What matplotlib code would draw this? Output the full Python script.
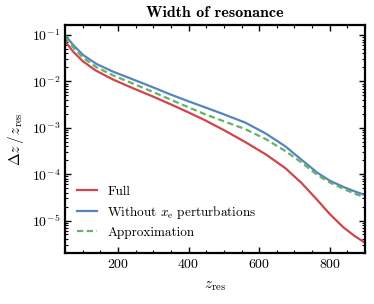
import matplotlib
matplotlib.use("Agg")
import matplotlib.pyplot as plt
import numpy as np

plt.rcParams["font.family"] = ["cmr10", "DejaVu Serif"]
plt.rcParams["mathtext.fontset"] = "cm"
plt.rcParams["axes.formatter.use_mathtext"] = True
plt.rcParams["font.size"] = 10

# z_res and log10(dz/z_res)
z_full = [50, 73, 101, 138, 186, 240, 300, 348, 400, 447, 500, 561, 620, 674, 720, 765, 800, 839, 870, 900]
log_full = [-1.13, -1.36, -1.57, -1.77, -1.96, -2.14, -2.33, -2.49, -2.67, -2.84, -3.05, -3.31, -3.58, -3.87,
            -4.19, -4.56, -4.86, -5.15, -5.33, -5.48]

z_nox = [50, 73, 101, 138, 186, 240, 300, 348, 400, 447, 500, 561, 620, 674, 720, 765, 800, 840, 870, 900]
log_nox = [-1.00, -1.215, -1.43, -1.62, -1.79, -1.95, -2.13, -2.28, -2.43, -2.56, -2.71, -2.89, -3.13, -3.40,
           -3.69, -3.97, -4.14, -4.28, -4.37, -4.45]

z_approx = [50, 73, 101, 138, 186, 240, 300, 348, 400, 447, 500, 561, 620, 674, 720, 765, 800, 840, 870, 900]
log_approx = [-1.05, -1.265, -1.49, -1.69, -1.87, -2.04, -2.23, -2.39, -2.56, -2.71, -2.86, -3.03, -3.25, -3.50,
              -3.75, -4.02, -4.18, -4.32, -4.42, -4.50]

red = "#d1444c"
blue = "#5585bd"
green = "#67b067"

fig = plt.figure(figsize=(3.74, 3.04), dpi=100)
ax = fig.add_axes([0.174, 0.168, 0.802, 0.75])

ax.plot(z_full, 10 ** np.array(log_full), color=red, lw=1.6, label="Full")
ax.plot(z_nox, 10 ** np.array(log_nox), color=blue, lw=1.6, label=r"Without $x_{\rm e}$ perturbations")
ax.plot(z_approx, 10 ** np.array(log_approx), color=green, lw=1.6, ls=(0, (2.8, 1.6)), label="Approximation")

ax.set_yscale("log")
ax.set_xlim(50, 900)
ax.set_ylim(2e-6, 0.165)
ax.set_xticks([200, 400, 600, 800])
ax.xaxis.set_minor_locator(matplotlib.ticker.MultipleLocator(50))
ax.tick_params(which="both", direction="in", top=True, right=True, labelsize=10)
ax.tick_params(which="major", length=4, width=1)
ax.tick_params(which="minor", length=2, width=0.8)
for s in ax.spines.values():
    s.set_linewidth(1.6)

ax.set_xlabel(r"$z_{\rm res}$", fontsize=11, labelpad=6)
ax.set_ylabel(r"$\Delta z\,/\,z_{\rm res}$", fontsize=11)
ax.set_title("Width of resonance", fontfamily="cmb10", fontsize=11.5)
ax.legend(loc="lower left", frameon=False, fontsize=9.5, handlelength=1.5, handletextpad=0.8,
          labelspacing=0.45, bbox_to_anchor=(0.0, 0.01))

fig.savefig("out.png", dpi=100)
